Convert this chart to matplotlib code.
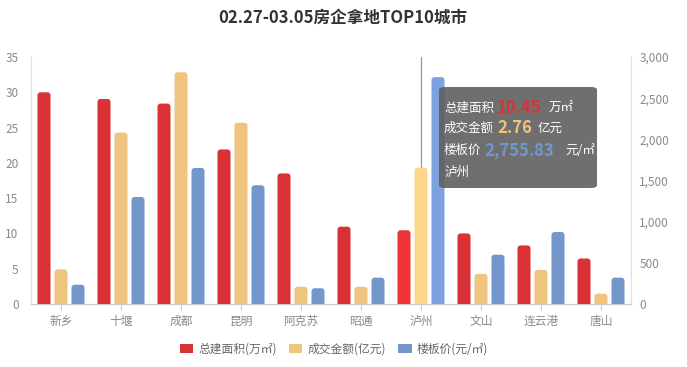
import matplotlib
matplotlib.use("Agg")
import matplotlib.pyplot as plt
from matplotlib.patches import Patch, FancyBboxPatch
import numpy as np

plt.rcParams['font.family'] = ['Noto Sans CJK SC', 'DejaVu Sans']

title = "02.27-03.05房企拿地TOP10城市"
cities = ["新乡", "十堰", "成都", "昆明", "阿克苏", "昭通", "泸州", "文山", "连云港", "唐山"]
area = [30.0, 29.05, 28.4, 21.9, 18.5, 10.96, 10.45, 10.0, 8.3, 6.45]          # 万㎡
amount = [0.70, 3.47, 4.69, 3.67, 0.35, 0.35, 2.76, 0.61, 0.69, 0.21]           # 亿元
price = [234, 1300, 1652, 1442, 191, 320, 2755.83, 599, 874, 320]               # 元/㎡
series_names = ["总建面积(万㎡)", "成交金额(亿元)", "楼板价(元/㎡)"]
left_ticks = [0, 5, 10, 15, 20, 25, 30, 35]
right_ticks = [0, 500, 1000, 1500, 2000, 2500, 3000]
hover_idx = 6

c_red, c_yel, c_blu = "#DA3136", "#EFC47E", "#7396CB"
h_red, h_yel, h_blu = "#EE3439", "#FDD68A", "#7EA2E0"

W, H = 687, 367
fig = plt.figure(figsize=(W / 100, H / 100), dpi=100)
ax = fig.add_axes([31 / W, 1 - 304 / H, 600 / W, 247 / H])
ax2 = ax.twinx()
ax3 = ax.twinx()

x = np.arange(len(cities))
bw = 13 / 60
off = 17 / 60

cols_r = [h_red if i == hover_idx else c_red for i in x]
cols_y = [h_yel if i == hover_idx else c_yel for i in x]
cols_b = [h_blu if i == hover_idx else c_blu for i in x]
b1 = ax.bar(x - off, area, bw, color=cols_r, zorder=3)
b3 = ax3.bar(x, amount, bw, color=cols_y, zorder=3)
b2 = ax2.bar(x + off, price, bw, color=cols_b, zorder=3)

ax.set_xlim(-0.5, len(cities) - 0.5)
ax.set_ylim(0, 35)
ax2.set_ylim(0, 3000)
ax3.set_ylim(0, 5)
ax3.axis("off")

# rounded tops: replace each bar with a rounded box (display space), clipped at the axis
r = 3.0
for bars in (b1, b2, b3):
    for p in bars:
        bb = p.get_window_extent()
        fc = p.get_facecolor()
        p.set_visible(False)
        y0 = bb.y0 - r
        h = bb.y1 - y0
        rr = min(r, h / 2)
        fb = FancyBboxPatch((bb.x0 + rr, y0 + rr), bb.width - 2 * rr, h - 2 * rr,
                            boxstyle=f"round,pad={rr}", transform=None,
                            facecolor=fc, edgecolor="none", zorder=3)
        fig.add_artist(fb)
        fb.set_clip_box(ax.bbox)

ax.axvline(hover_idx, color="#9a9a9a", lw=0.9, zorder=2)

tick_col = "#8a8a8a"
ax.set_yticks(left_ticks)
ax2.set_yticks(right_ticks)
ax2.set_yticklabels([f"{v:,}" for v in right_ticks])
ax.set_xticks(x)
ax.set_xticklabels(cities)
for a in (ax, ax2):
    a.tick_params(axis="y", length=0, labelsize=8.5, labelcolor=tick_col)
ax.tick_params(axis="y", pad=9)
ax2.tick_params(axis="y", pad=6)
ax.tick_params(axis="x", length=4, color="#cccccc", labelsize=8.5, labelcolor=tick_col, pad=4)
for a in (ax, ax2):
    a.spines["top"].set_visible(False)
    a.spines["left"].set_color("#e0e0e0")
    a.spines["right"].set_color("#e0e0e0")
    a.spines["bottom"].set_color("#cccccc")
    a.set_facecolor("none")

fig.text(343 / W, 1 - 18 / H, title, ha="center", va="center", fontsize=12,
         fontweight="bold", color="#333333")

handles = [Patch(facecolor=c, edgecolor="none") for c in (c_red, c_yel, c_blu)]
fig.legend(handles, series_names, loc="center", bbox_to_anchor=(334 / W, 1 - 349 / H),
           ncol=3, frameon=False, fontsize=8.5, labelcolor="#666666",
           handlelength=1.15, handleheight=0.75, handletextpad=0.45, columnspacing=1.0)

# tooltip
def px(xp, yp):
    return xp / W, 1 - yp / H

box = FancyBboxPatch(px(439, 188), 158 / W, 101 / H, boxstyle="round,pad=0,rounding_size=0.008",
                     transform=fig.transFigure, facecolor="#5f5f5f", alpha=0.9,
                     edgecolor="none", zorder=10)
fig.add_artist(box)
lines = [
    (108, [("总建面积", 444, "white", 9, "normal"), (f"{area[hover_idx]:.2f}", 497, c_red, 12, "bold"), ("万㎡", 549, "white", 9, "normal")]),
    (128, [("成交金额", 444, "white", 9, "normal"), (f"{amount[hover_idx]:.2f}", 497, c_yel, 12, "bold"), ("亿元", 538, "white", 9, "normal")]),
    (150, [("楼板价", 444, "white", 9, "normal"), (f"{price[hover_idx]:,.2f}", 484, c_blu, 12, "bold"), ("元/㎡", 565, "white", 9, "normal")]),
    (172, [(cities[hover_idx], 444, "white", 9, "normal")]),
]
for yp, parts in lines:
    for txt, xp, col, fs, fw in parts:
        fig.text(*px(xp, yp), txt, ha="left", va="center", color=col, fontsize=fs,
                 fontweight=fw, zorder=11)

fig.savefig("out.png", dpi=100)
